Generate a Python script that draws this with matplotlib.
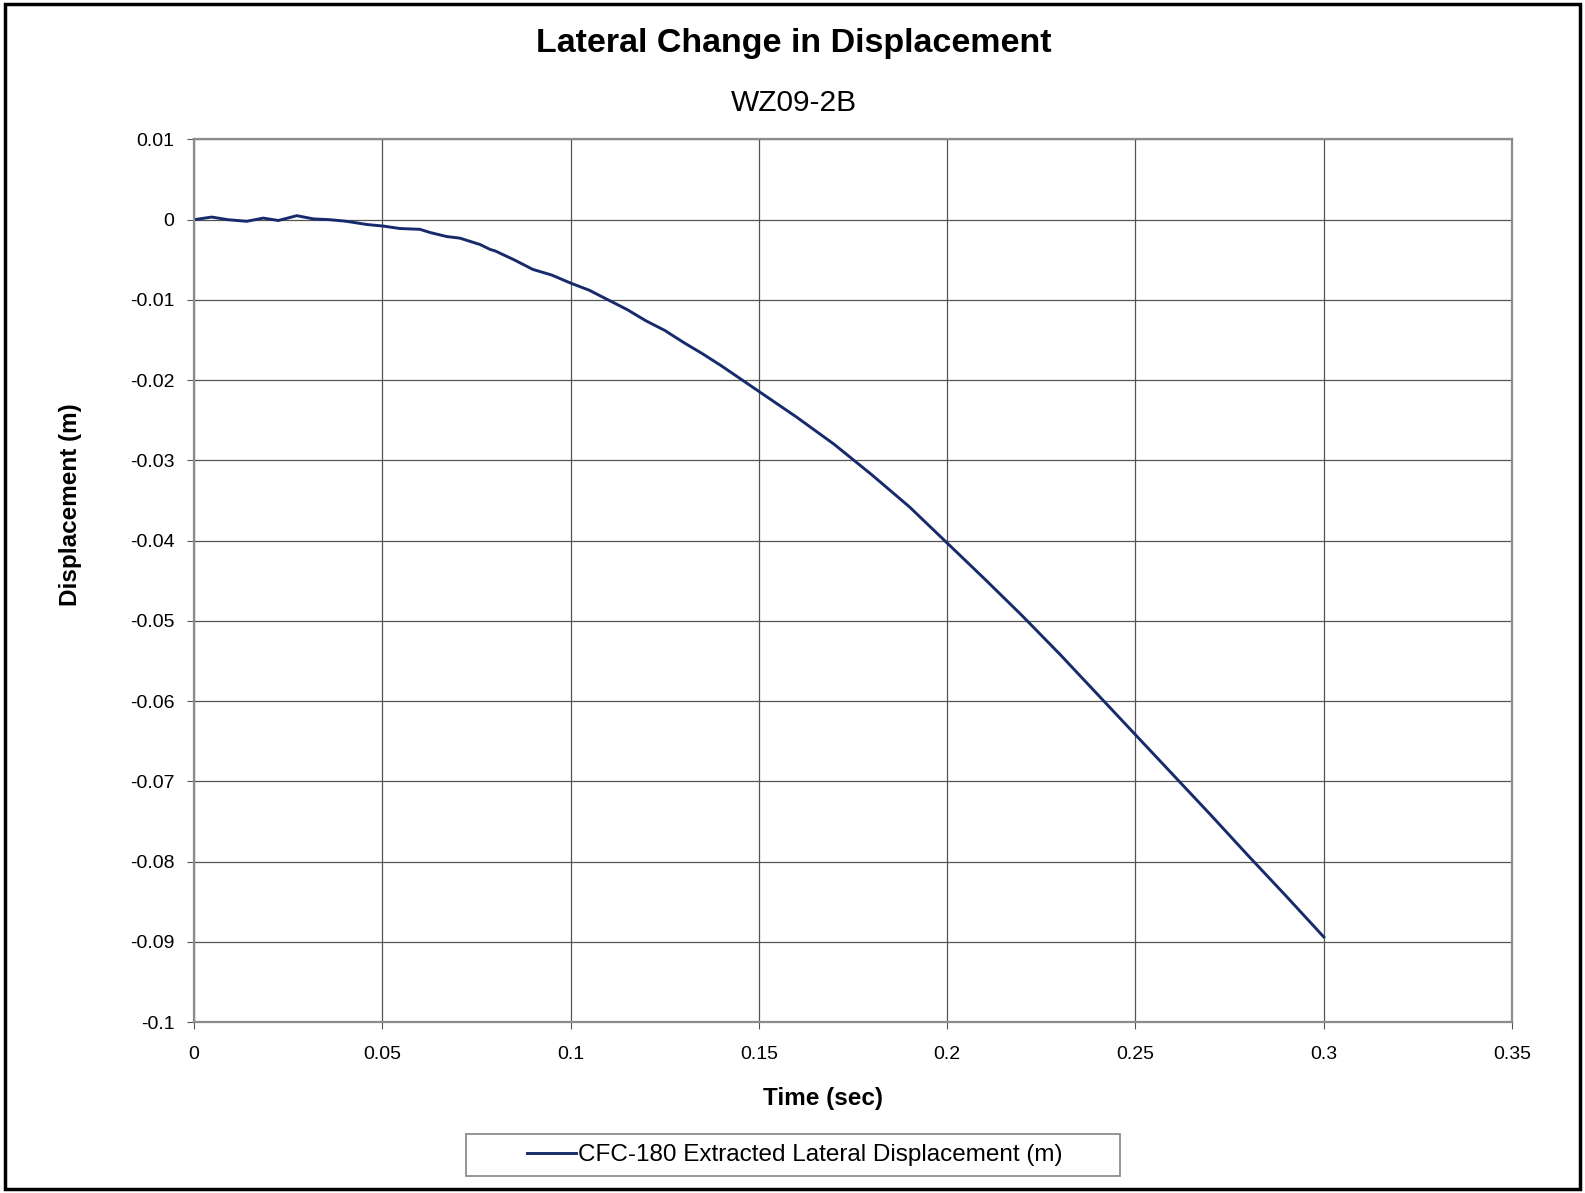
import numpy as np
import matplotlib
matplotlib.use('Agg')
import matplotlib.pyplot as plt
from matplotlib.ticker import FuncFormatter, MultipleLocator

plt.rcParams['font.family'] = ['Liberation Sans', 'DejaVu Sans']
plt.rcParams['axes.unicode_minus'] = False

# Data (time in s, displacement in m)
time_s = [0.0, 0.0047, 0.009, 0.014, 0.0184, 0.0224, 0.0273, 0.0317, 0.0361,
          0.0405, 0.0459, 0.0503, 0.0547, 0.060, 0.0627, 0.0671, 0.0706,
          0.076, 0.0786, 0.08, 0.085, 0.09, 0.095, 0.10, 0.105, 0.11, 0.115,
          0.12, 0.125, 0.13, 0.135, 0.14, 0.145, 0.15, 0.16, 0.17, 0.18,
          0.19, 0.20, 0.21, 0.22, 0.23, 0.24, 0.25, 0.26, 0.27, 0.28, 0.29,
          0.30]
disp_m = [0.0, 0.00033, 0.0, -0.0002, 0.0002, -0.0001, 0.0005, 0.0001, 0.0,
          -0.0002, -0.0006, -0.0008, -0.0011, -0.0012, -0.0016, -0.0021,
          -0.0023, -0.0031, -0.0037, -0.0039, -0.0050, -0.0062, -0.0069,
          -0.0079, -0.0088, -0.0100, -0.0112, -0.0126, -0.0138, -0.0153,
          -0.0167, -0.0182, -0.0198, -0.0214, -0.0246, -0.0280, -0.0318,
          -0.0358, -0.0403, -0.0448, -0.0494, -0.0542, -0.0592, -0.0642,
          -0.0692, -0.0742, -0.0793, -0.0843, -0.0894]

series_label = 'CFC-180 Extracted Lateral Displacement (m)'
LINE_COLOR = '#172a6b'
GRID_COLOR = '#555555'

W, H = 1585, 1193
fig = plt.figure(figsize=(W / 100, H / 100), dpi=100)
ax = fig.add_axes([0.1224, 0.1433, 0.8316, 0.7398])

line, = ax.plot(time_s, disp_m, color=LINE_COLOR, lw=2.1, label=series_label,
                solid_joinstyle='round')

ax.set_xlim(0, 0.35)
ax.set_ylim(-0.1, 0.01)
ax.xaxis.set_major_locator(MultipleLocator(0.05))
ax.yaxis.set_major_locator(MultipleLocator(0.01))
fmt = FuncFormatter(lambda v, p: '0' if abs(v) < 1e-12 else '%g' % round(v, 4))
ax.xaxis.set_major_formatter(fmt)
ax.yaxis.set_major_formatter(fmt)

ax.grid(True, color=GRID_COLOR, lw=0.9)
ax.set_axisbelow(True)
for s in ax.spines.values():
    s.set_color('#8c8c8c')
    s.set_linewidth(1.6)
ax.tick_params(labelsize=14, length=5, color='#555555', pad=9)
ax.tick_params(axis='x', pad=12)

# axis titles placed like the original (not centred on the plot area)
fig.text(823 / W, 1 - 1098 / H, 'Time (sec)', ha='center', va='center',
         fontsize=17.5, fontweight='bold')
fig.text(71 / W, 1 - 505 / H, 'Displacement (m)', ha='center', va='center',
         rotation=90, fontsize=17.5, fontweight='bold')

fig.text(794 / W, 1 - 43.5 / H, 'Lateral Change in Displacement', ha='center',
         va='center', fontsize=24.5, fontweight='bold')
fig.text(794 / W, 1 - 103 / H, 'WZ09-2B', ha='center', va='center', fontsize=21.5)

# legend: text without its own frame, box drawn separately (wide side padding)
leg = fig.legend(handles=[line], loc='center', bbox_to_anchor=(795 / W, 1 - 1155 / H),
                 fontsize=17.5, frameon=False, handlelength=2.0,
                 handletextpad=0.1, borderpad=0.2, borderaxespad=0)
fig.patches.append(plt.Rectangle((466 / W, 1 - 1176 / H), 654 / W, 42 / H,
                                 transform=fig.transFigure, fill=False,
                                 edgecolor='#8c8c8c', lw=1.3))

# outer chart border
fig.patches.append(plt.Rectangle((0.003, 0.003), 0.994, 0.994, transform=fig.transFigure,
                                 fill=False, edgecolor='black', lw=2.5))

fig.savefig('out.png', dpi=100)
